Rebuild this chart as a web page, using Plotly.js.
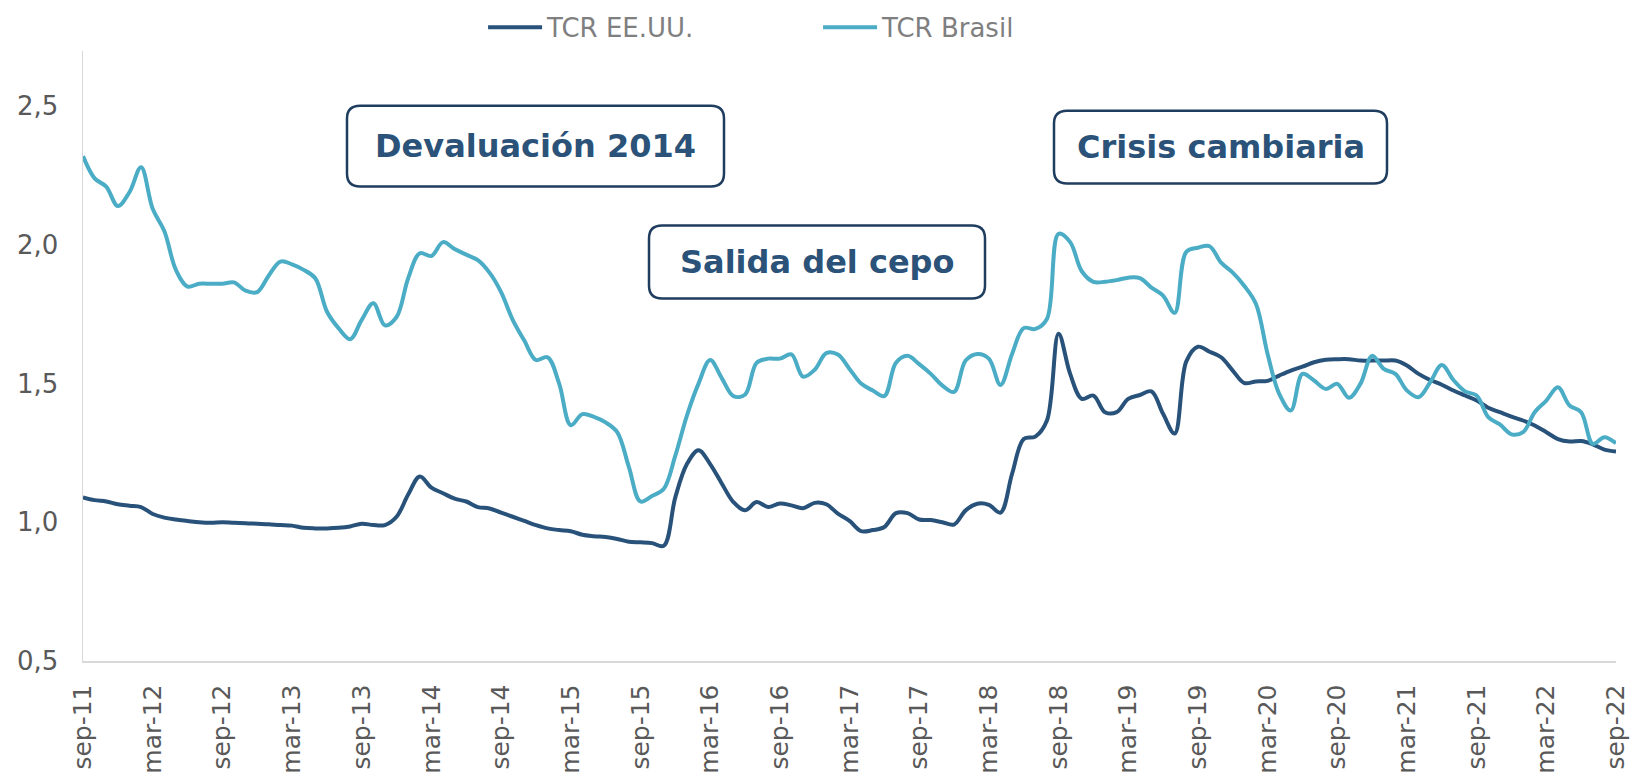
<!DOCTYPE html>
<html>
<head>
<meta charset="utf-8">
<script src="https://cdn.plot.ly/plotly-3.0.1.min.js"></script>
<style>html,body{margin:0;padding:0;background:#fff;}#chart{width:1632px;height:778px;}</style>
</head>
<body>
<div id="chart"></div>
<script>
// Monthly categories sep-11 .. sep-22
const months = [
  'sep-11','oct-11','nov-11','dic-11',
  'ene-12','feb-12','mar-12','abr-12','may-12','jun-12','jul-12','ago-12','sep-12','oct-12','nov-12','dic-12',
  'ene-13','feb-13','mar-13','abr-13','may-13','jun-13','jul-13','ago-13','sep-13','oct-13','nov-13','dic-13',
  'ene-14','feb-14','mar-14','abr-14','may-14','jun-14','jul-14','ago-14','sep-14','oct-14','nov-14','dic-14',
  'ene-15','feb-15','mar-15','abr-15','may-15','jun-15','jul-15','ago-15','sep-15','oct-15','nov-15','dic-15',
  'ene-16','feb-16','mar-16','abr-16','may-16','jun-16','jul-16','ago-16','sep-16','oct-16','nov-16','dic-16',
  'ene-17','feb-17','mar-17','abr-17','may-17','jun-17','jul-17','ago-17','sep-17','oct-17','nov-17','dic-17',
  'ene-18','feb-18','mar-18','abr-18','may-18','jun-18','jul-18','ago-18','sep-18','oct-18','nov-18','dic-18',
  'ene-19','feb-19','mar-19','abr-19','may-19','jun-19','jul-19','ago-19','sep-19','oct-19','nov-19','dic-19',
  'ene-20','feb-20','mar-20','abr-20','may-20','jun-20','jul-20','ago-20','sep-20','oct-20','nov-20','dic-20',
  'ene-21','feb-21','mar-21','abr-21','may-21','jun-21','jul-21','ago-21','sep-21','oct-21','nov-21','dic-21',
  'ene-22','feb-22','mar-22','abr-22','may-22','jun-22','jul-22','ago-22','sep-22'
];

const tcrEEUU = [
  1.09, 1.08, 1.075, 1.065,
  1.06, 1.055, 1.03, 1.017, 1.01, 1.005, 1.0, 0.998, 1.0, 0.998, 0.997, 0.995,
  0.993, 0.99, 0.988, 0.98, 0.978, 0.978, 0.98, 0.985, 0.995, 0.99, 0.99, 1.02,
  1.10, 1.165, 1.125, 1.105, 1.085, 1.075, 1.055, 1.05, 1.035, 1.02, 1.005, 0.99,
  0.978, 0.972, 0.968, 0.955, 0.95, 0.947, 0.94, 0.93, 0.928, 0.925, 0.915, 1.09,
  1.21, 1.26, 1.21, 1.14, 1.073, 1.043, 1.073, 1.055, 1.068, 1.061, 1.051, 1.07,
  1.065, 1.031, 1.005, 0.968, 0.972, 0.983, 1.033, 1.033, 1.01, 1.008, 1.0, 0.992,
  1.043, 1.067, 1.063, 1.035, 1.175, 1.30, 1.309, 1.367, 1.68, 1.535, 1.445, 1.457,
  1.397, 1.397, 1.445, 1.459, 1.472, 1.391, 1.32, 1.58, 1.633, 1.615, 1.595, 1.547,
  1.502, 1.508, 1.51, 1.529, 1.547, 1.561, 1.577, 1.586, 1.588, 1.588, 1.583, 1.583,
  1.583, 1.583, 1.565, 1.535, 1.513, 1.496, 1.475, 1.457, 1.439, 1.413, 1.397, 1.381,
  1.367, 1.349, 1.325, 1.30, 1.291, 1.293, 1.281, 1.262, 1.255
];

const tcrBrasil = [
  2.32, 2.24, 2.21, 2.14,
  2.19, 2.28, 2.13, 2.05, 1.91, 1.85, 1.86, 1.86, 1.86, 1.865, 1.835, 1.83,
  1.89, 1.94, 1.93, 1.91, 1.88, 1.76, 1.70, 1.66, 1.73, 1.79, 1.71, 1.74,
  1.88, 1.97, 1.96, 2.01, 1.985, 1.965, 1.945, 1.90, 1.83, 1.73, 1.655, 1.585,
  1.595, 1.50, 1.35, 1.39, 1.38, 1.36, 1.325, 1.20, 1.075, 1.095, 1.12, 1.24,
  1.385, 1.50, 1.585, 1.52, 1.455, 1.46, 1.575, 1.59, 1.59, 1.605, 1.525, 1.55,
  1.61, 1.605, 1.553, 1.50, 1.475, 1.455, 1.575, 1.60, 1.57, 1.535, 1.493, 1.47,
  1.583, 1.607, 1.59, 1.495, 1.607, 1.70, 1.697, 1.733, 2.04, 2.01, 1.905, 1.867,
  1.867, 1.873, 1.882, 1.88, 1.846, 1.817, 1.755, 1.975, 1.99, 1.995, 1.936, 1.90,
  1.852, 1.787, 1.607, 1.463, 1.403, 1.535, 1.511, 1.481, 1.499, 1.449, 1.50, 1.60,
  1.553, 1.535, 1.475, 1.451, 1.505, 1.567, 1.513, 1.472, 1.457, 1.379, 1.353, 1.317,
  1.325, 1.397, 1.439, 1.487, 1.421, 1.397, 1.283, 1.307, 1.285
];

const tickLabels = [
  'sep-11','mar-12','sep-12','mar-13','sep-13','mar-14','sep-14','mar-15','sep-15','mar-16','sep-16','mar-17',
  'sep-17','mar-18','sep-18','mar-19','sep-19','mar-20','sep-20','mar-21','sep-21','mar-22','sep-22'
];

const seriesNames = ['TCR EE.UU.', 'TCR Brasil'];
const boxLabels = ['Devaluación 2014', 'Salida del cepo', 'Crisis cambiaria'];

// layout geometry (pixels)
const W = 1632, H = 778;
const M = {l: 83, r: 16, t: 50, b: 117};
const PW = W - M.l - M.r, PH = H - M.t - M.b;
const px2x = p => (p - M.l) / PW;
const px2y = p => (H - M.b - p) / PH;

function roundRect(x0, y0, x1, y1, r) {
  const X = px2x, Y = px2y;
  return `M ${X(x0 + r)},${Y(y0)} L ${X(x1 - r)},${Y(y0)} Q ${X(x1)},${Y(y0)} ${X(x1)},${Y(y0 + r)} ` +
         `L ${X(x1)},${Y(y1 - r)} Q ${X(x1)},${Y(y1)} ${X(x1 - r)},${Y(y1)} ` +
         `L ${X(x0 + r)},${Y(y1)} Q ${X(x0)},${Y(y1)} ${X(x0)},${Y(y1 - r)} ` +
         `L ${X(x0)},${Y(y0 + r)} Q ${X(x0)},${Y(y0)} ${X(x0 + r)},${Y(y0)} Z`;
}

const boxes = [
  [347, 105, 724, 186],
  [649, 225, 985, 298],
  [1054, 110, 1387, 183]
];

const FONT = 'Verdana, "DejaVu Sans", sans-serif';

const traces = [
  {
    x: months, y: tcrEEUU, name: seriesNames[0], type: 'scatter', mode: 'lines',
    line: {color: '#28527a', width: 4, shape: 'spline', smoothing: 1}
  },
  {
    x: months, y: tcrBrasil, name: seriesNames[1], type: 'scatter', mode: 'lines',
    line: {color: '#4bacc6', width: 4, shape: 'spline', smoothing: 1}
  }
];

const layout = {
  width: W, height: H,
  margin: M,
  paper_bgcolor: '#ffffff', plot_bgcolor: '#ffffff',
  separators: ',.',
  font: {family: FONT, size: 26, color: '#595959'},
  showlegend: true,
  legend: {
    orientation: 'h', xref: 'container', yref: 'container',
    x: 0.296, y: 0.965, xanchor: 'left', yanchor: 'middle',
    itemwidth: 54,
    entrywidth: 266, entrywidthmode: 'pixels',
    font: {family: FONT, size: 26, color: '#7f7f7f'},
    bgcolor: 'rgba(0,0,0,0)'
  },
  xaxis: {
    type: 'category', categoryarray: months, categoryorder: 'array',
    range: [0, months.length - 1],
    tickmode: 'array', tickvals: tickLabels, ticktext: tickLabels,
    tickangle: -90, ticks: '', ticklabelstandoff: 12,
    tickfont: {family: FONT, size: 25, color: '#595959'},
    showline: true, linecolor: '#d9d9d9', linewidth: 1.5,
    showgrid: false, zeroline: false, fixedrange: true
  },
  yaxis: {
    range: [0.5, 2.7], tick0: 0.5, dtick: 0.5, tickformat: '.1f',
    ticks: '', ticklabelstandoff: 18,
    tickfont: {family: FONT, size: 26, color: '#595959'},
    showline: true, linecolor: '#d9d9d9', linewidth: 1.5,
    showgrid: false, zeroline: false, fixedrange: true
  },
  shapes: boxes.map(b => ({
    type: 'path', xref: 'paper', yref: 'paper',
    path: roundRect(b[0], b[1], b[2], b[3], 13),
    line: {color: '#1f3d5f', width: 2.5}, fillcolor: '#ffffff', layer: 'above'
  })),
  annotations: boxes.map((b, i) => ({
    xref: 'paper', yref: 'paper',
    x: px2x((b[0] + b[2]) / 2), y: px2y((b[1] + b[3]) / 2),
    xanchor: 'center', yanchor: 'middle', showarrow: false,
    text: '<b>' + boxLabels[i] + '</b>',
    font: {family: FONT, size: 32, color: '#2b5278'}
  }))
};

const gdEl = document.getElementById('chart');
function stretchLegendLines() {
  // legend line symbols as long as in the reference
  gdEl.querySelectorAll('g.legend path.js-line, g.legend .legendlines path').forEach(p => {
    p.setAttribute('d', 'M5,0h54');
  });
}
Plotly.newPlot(gdEl, traces, layout, {displayModeBar: false, staticPlot: true}).then(() => {
  stretchLegendLines();
  if (gdEl.on) gdEl.on('plotly_afterplot', stretchLegendLines);
  setTimeout(stretchLegendLines, 0);
  setTimeout(stretchLegendLines, 200);
});
</script>
</body>
</html>
